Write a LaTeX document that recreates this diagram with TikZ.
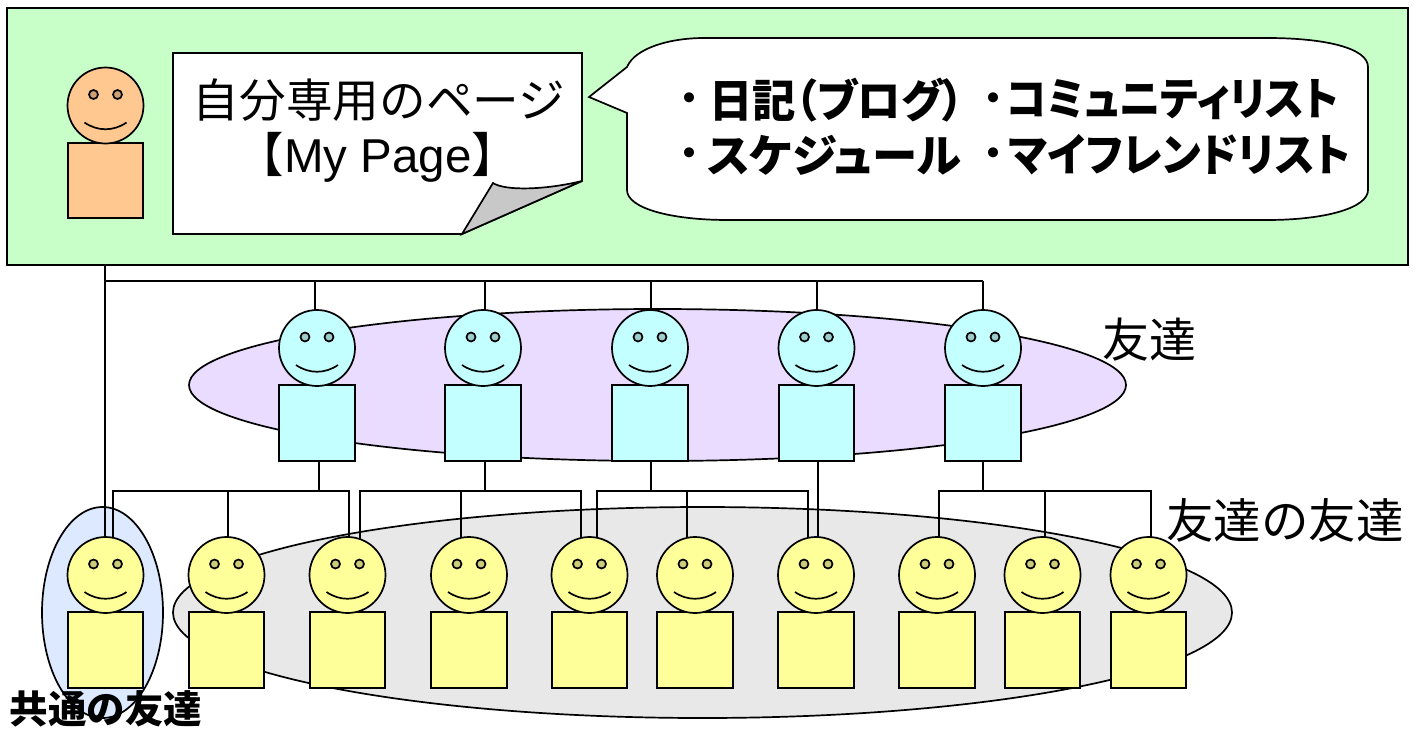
\documentclass[tikz,border=0pt]{standalone}
\usepackage{fontspec}
\setmainfont{Liberation Sans}
\newfontfamily\cjk{Noto Sans CJK JP}
\newfontfamily\cjkp[RawFeature=+palt]{Noto Sans CJK JP}
\usetikzlibrary{shapes.geometric}
\definecolor{mygreen}{HTML}{C8FFC8}
\definecolor{myorange}{HTML}{FFC890}
\definecolor{mycyan}{HTML}{C4FFFF}
\definecolor{myyellow}{HTML}{FFFF99}
\definecolor{mypurple}{HTML}{EADCFF}
\definecolor{mygray}{HTML}{E8E8E8}
\definecolor{myblue}{HTML}{DCE9FF}
\definecolor{myflap}{HTML}{C8C8C8}
\tikzset{
  ln/.style={draw=black,line width=1.7pt},
  headshape/.style={ellipse,ln,minimum width=76pt,minimum height=76pt,inner sep=0pt,outer sep=0pt},
  bodyshape/.style={rectangle,ln,minimum width=75.5pt,minimum height=75.5pt,inner sep=0pt,outer sep=0pt},
  eyeshape/.style={ellipse,ln,minimum width=9pt,minimum height=9pt,inner sep=0pt,outer sep=0pt},
  label/.style={inner sep=0pt,outer sep=0pt,text=black},
  group/.style={ellipse,ln,inner sep=0pt,outer sep=0pt},
  boldtext/.style={label,font=\fontsize{45}{45}\selectfont\bfseries,anchor=west},
  bolddot/.style={label,font=\fontsize{36}{36}\selectfont\bfseries,anchor=base},
}
\newcommand{\persona}[4]{% name, cx, head cy, colour
  \node[bodyshape,fill=#4] (b#1) at (#2,#3+75) {};
  \node[headshape,fill=#4] (h#1) at (#2,#3) {};
  \node[eyeshape,fill=#4!80!black] (el#1) at (#2-12,#3-11) {};
  \node[eyeshape,fill=#4!80!black] (er#1) at (#2+12,#3-11) {};
  \draw[ln] (#2-21,#3+17) .. controls (#2-8,#3+26) and (#2+8,#3+26) .. (#2+21,#3+17);
}
\newcommand{\jt}[2]{\resizebox*{#1pt}{\totalheight}{\cjk #2}}
\newcommand{\jp}[2]{\resizebox*{#1pt}{\totalheight}{\cjkp #2}}
\begin{document}
\begin{tikzpicture}[x=1pt,y=-1pt]
\useasboundingbox (0,0) rectangle (1420,728);
% top panel
\node[rectangle,ln,fill=mygreen,minimum width=1401pt,minimum height=257pt,inner sep=0pt,outer sep=0pt] (panel) at (707.5,136.5) {};
% group ellipses
\node[group,fill=mypurple,minimum width=937pt,minimum height=152pt] (gfriends) at (657.5,385) {};
\node[group,fill=mygray,minimum width=1059pt,minimum height=211pt] (gfof) at (702.5,612.5) {};
\node[group,fill=myblue,minimum width=121pt,minimum height=211pt] (gcommon) at (102.5,612.5) {};
% page with curled corner
\draw[ln,fill=white] (173,53) -- (582,53) -- (582,181) -- (462,234) -- (173,234) -- cycle;
\draw[ln,fill=myflap] (462,234) -- (493,183) .. controls (505,191) and (545,190) .. (582,181) -- cycle;
% callout
\draw[ln,fill=white] (627,67) .. controls (635,48) and (670,38) .. (704,38) -- (1267,38)
  .. controls (1325,38) and (1368,48) .. (1368,67) -- (1368,190)
  .. controls (1368,208) and (1325,220) .. (1267,220) -- (728,220)
  .. controls (670,220) and (627,208) .. (627,190) -- (627,113) -- (589,97) -- cycle;
% persons
\persona{me}{105.5}{105.5}{myorange}
% connectors below panel (drawn before the heads so the heads cover their ends)
\coordinate (top) at (105,281);
\coordinate (topend) at (983,281);
\draw[ln] (panel.south -| top) -- (top) -- (topend);
\foreach \n/\x in {1/315,2/485,3/651,4/817,5/983}{
  \coordinate (tp\n) at (\x,281);
  \coordinate (tq\n) at (\x,348);
  \draw[ln] (tp\n) -- (tq\n);
}
\coordinate (c1w) at (113,491);\coordinate (c1e) at (349,491);
\coordinate (c2w) at (360,491);\coordinate (c2e) at (581,491);
\coordinate (c3w) at (597,491);\coordinate (c3e) at (808,491);
\coordinate (c5w) at (939,491);\coordinate (c5e) at (1151,491);
\foreach \a/\b in {c1w/c1e,c2w/c2e,c3w/c3e,c5w/c5e}{
  \draw[ln] (\a |- 0,575) -- (\a) -- (\b) -- (\b |- 0,575);
}
\foreach \n/\x in {1/228,2/461,3/687,5/1045}{
  \coordinate (d\n) at (\x,491);
  \draw[ln] (d\n) -- (\x,575);
}
\foreach \n/\x in {1/319,2/485,3/651,4/818,5/983}{
  \coordinate (u\n) at (\x,420);
  \draw[ln] (u\n) -- (\x,\ifnum\n=4 575\else 491\fi);
}
\draw[ln] (top) -- (105,575);
% friends
\persona{f1}{317}{348}{mycyan}
\persona{f2}{483}{348}{mycyan}
\persona{f3}{650}{348}{mycyan}
\persona{f4}{816.5}{348}{mycyan}
\persona{f5}{983}{348}{mycyan}
% friends of friends
\persona{y1}{105.5}{575}{myyellow}
\persona{y2}{226.5}{575}{myyellow}
\persona{y3}{347.5}{575}{myyellow}
\persona{y4}{469}{575}{myyellow}
\persona{y5}{589.5}{575}{myyellow}
\persona{y6}{695}{575}{myyellow}
\persona{y7}{816}{575}{myyellow}
\persona{y8}{937}{575}{myyellow}
\persona{y9}{1042.5}{575}{myyellow}
\persona{y10}{1148.5}{575}{myyellow}
% text
\node[label,font=\fontsize{46}{46}\selectfont] (tpage) at (379,100) {\jt{372}{自分専用のページ}};
\node[label,font=\fontsize{47.5}{47.5}\selectfont] (tmy) at (378,157) {{\cjk 【}My Page{\cjk 】}};
\node[bolddot] (da) at (689,111) {\cjkp ・};
\node[boldtext] (ta) at (709,100) {\jp{255}{日記（ブログ）}};
\node[bolddot] (db) at (993,111) {\cjkp ・};
\node[boldtext] (tb) at (1007,100) {\jp{332}{コミュニティリスト}};
\node[bolddot] (dc) at (689,166) {\cjkp ・};
\node[boldtext] (tc) at (707,155) {\jp{254}{スケジュール}};
\node[bolddot] (dd) at (993,166) {\cjkp ・};
\node[boldtext] (td) at (1009,155) {\jp{341}{マイフレンドリスト}};
\node[label,font=\fontsize{47}{47}\selectfont] (tf) at (1149,340) {{\cjk 友達}};
\node[label,font=\fontsize{47.5}{47.5}\selectfont] (tff) at (1285,520) {{\cjk 友達の友達}};
\node[label,font=\fontsize{38.5}{38.5}\selectfont\bfseries] (tc2) at (106,708.5) {{\cjk\bfseries 共通の友達}};
\end{tikzpicture}
\end{document}
